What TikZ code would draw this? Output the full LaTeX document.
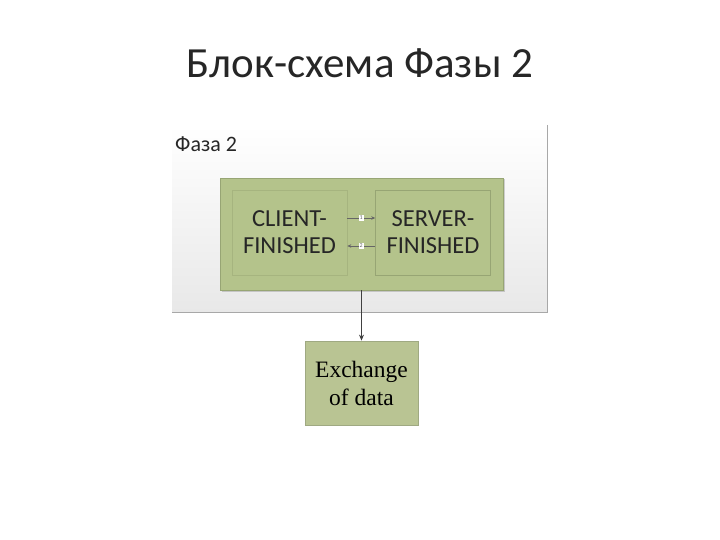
\documentclass[tikz,border=0pt]{standalone}
\usepackage{fontspec}
\setmainfont{Carlito}
\newfontfamily\serifface{Liberation Serif}
\usetikzlibrary{positioning, arrows.meta, shadows}
\definecolor{Olive}{HTML}{B4C38B}
\definecolor{OliveDark}{HTML}{97A574}
\definecolor{OliveLine}{HTML}{A6B47F}
\definecolor{Sage}{HTML}{B9C493}
\definecolor{SageDark}{HTML}{9FA982}
\definecolor{Frame}{HTML}{A8A8A8}
\definecolor{Ink}{HTML}{262626}

\begin{document}
\begin{tikzpicture}[x=1pt, y=-1pt,
    panel/.style={inner sep=0pt, top color=white, bottom color=black!9, minimum width=375pt, minimum height=187pt},
    group/.style={fill=Olive, draw=OliveDark, line width=0.8pt, minimum width=283pt, minimum height=112pt, drop shadow={shadow xshift=1.5pt, shadow yshift=-1.5pt, opacity=0.35}},
    part/.style={draw=OliveLine, line width=0.6pt, minimum width=115pt, minimum height=85pt, align=center, font=\fontsize{24.5}{27}\selectfont, text=Ink},
    result/.style={fill=Sage, draw=SageDark, line width=0.8pt, minimum width=113pt, minimum height=84pt, align=center, font=\serifface\fontsize{23.5}{28}\selectfont, text=black},
    msg/.style={-{Stealth[length=4pt, width=3.5pt]}, line width=0.6pt, color=black!60},
    tag/.style={fill=white, inner sep=0.8pt, font=\fontsize{6}{6}\selectfont},
    flow/.style={-{Stealth[length=6pt, width=5pt]}, line width=0.7pt, color=black!75}
]
\useasboundingbox (0,0) rectangle (720,540);

\node[anchor=base, font=\fontsize{43}{50}\selectfont, text=black!85] (title) at (360,78) {Блок-схема Фазы 2};

% phase panel
\node[panel, anchor=north west] (phase) at (172,125) {};
\draw[Frame, line width=0.8pt] (phase.north east) -- (phase.south east) -- (phase.south west);
\node[anchor=base west, inner sep=0pt, font=\fontsize{22}{26}\selectfont, text=black!85] (phaselabel) at (175,152) {Фаза 2};

\node[group] (grp) at (361.5,234) {};
\node[part] (client) at (289.5,232.5) {CLIENT-\\FINISHED};
\node[part, draw=OliveDark] (server) at (433,232.5) {SERVER-\\FINISHED};

\draw[msg] ([yshift=14.5pt]client.east) -- node[tag] {1} ([yshift=14.5pt]server.west);
\draw[msg] ([yshift=-13.5pt]server.west) -- node[tag] {2} ([yshift=-13.5pt]client.east);

\node[result] (data) at (361.5,383) {Exchange\\of data};

\draw[flow] (grp.south) -- (data.north);
\end{tikzpicture}
\end{document}
